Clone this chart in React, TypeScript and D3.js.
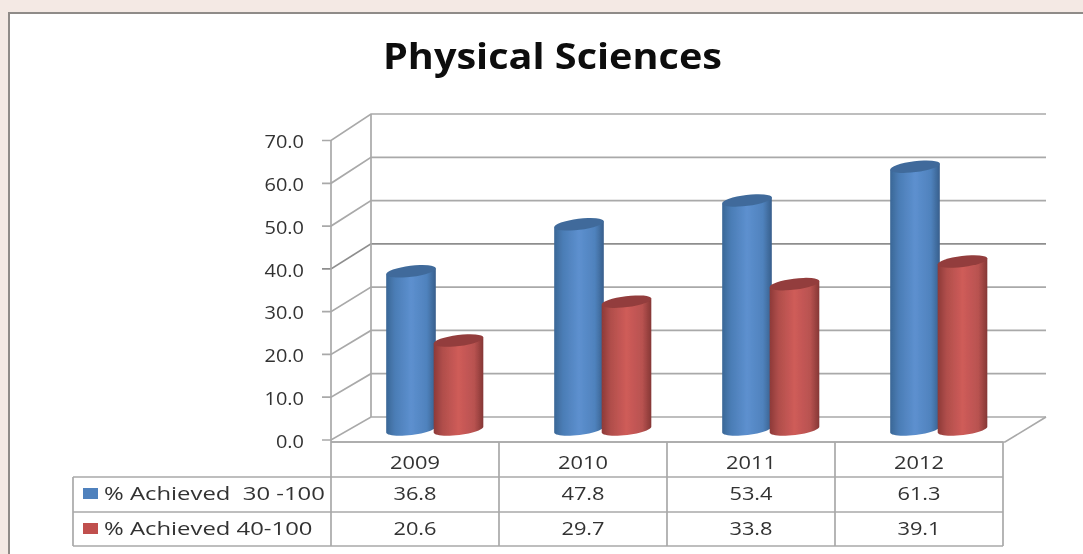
import React from "react";
import * as d3 from "d3";

const categories = ["2009", "2010", "2011", "2012"];
const seriesNames = ["% Achieved  30 -100", "% Achieved 40-100"];
const blueValues = [36.8, 47.8, 53.4, 61.3];
const redValues = [20.6, 29.7, 33.8, 39.1];
const blueLabels = ["36.8", "47.8", "53.4", "61.3"];
const redLabels = ["20.6", "29.7", "33.8", "39.1"];
const ticks = [0, 10, 20, 30, 40, 50, 60, 70];
const title = "Physical Sciences";

const W = 1083, H = 554;
const frontX = 331, frontRight = 1003;
const dx = 40;
const yFront = d3.scaleLinear().domain([0, 70]).range([440, 140.5]);
const yBack = d3.scaleLinear().domain([0, 70]).range([417, 114]);
const yBar = d3.scaleLinear().domain([0, 70]).range([428.5, 129.5]);
const xBand = d3.scaleBand<string>().domain(categories).range([frontX, frontRight]);
const rowY = [442, 477, 512, 546];
const rowTextY = [462, 493, 528];
const tableLeft = 73;
const GRID = "#a9a9a9";
const FONT = "'Open Sans', sans-serif";
const TEXT = "#333333";

function Label({ x, y, sx, anchor, children }: { x: number; y: number; sx: number; anchor: string; children: React.ReactNode }) {
  return (
    <text
      transform={`translate(${x} ${y}) scale(${sx} 1)`}
      dy="0.36em"
      textAnchor={anchor}
      fontFamily={FONT}
      fontSize={18.5}
      fill={TEXT}
      style={{ whiteSpace: "pre" }}
    >
      {children}
    </text>
  );
}

function Cyl({ cx, value, id, dark }: { cx: number; value: number; id: string; dark: string }) {
  const rx = 25, ry = 5.5, rot = (-7 * Math.PI) / 180;
  const top = yBar(value), base = yBar(0) + 1;
  const pt = (cy: number, t: number): [number, number] => [
    cx + rx * Math.cos(t) * Math.cos(rot) - ry * Math.sin(t) * Math.sin(rot),
    cy + rx * Math.cos(t) * Math.sin(rot) + ry * Math.sin(t) * Math.cos(rot),
  ];
  const angles = d3.range(0, 25).map((i) => Math.PI - (i * Math.PI) / 24);
  const pts: [number, number][] = [pt(top, Math.PI), ...angles.map((t) => pt(base, t)), pt(top, 0)];
  const d = d3.line()(pts) + "Z";
  return (
    <g>
      <path d={d} fill={`url(#${id})`} />
      <ellipse cx={cx} cy={top} rx={rx} ry={ry} fill={dark} transform={`rotate(-7 ${cx} ${top})`} />
    </g>
  );
}

export default function App() {
  const lineProps = { stroke: GRID, strokeWidth: 1.7, fill: "none" };
  return (
    <svg width={W} height={H} style={{ position: "absolute", left: 0, top: 0 }}>
      <defs>
        <linearGradient id="blue" x1="0" x2="1" y1="0" y2="0">
          <stop offset="0" stopColor="#3a6796" />
          <stop offset="0.18" stopColor="#4b7db6" />
          <stop offset="0.5" stopColor="#5d90cf" />
          <stop offset="0.82" stopColor="#4f82bd" />
          <stop offset="1" stopColor="#385f8c" />
        </linearGradient>
        <linearGradient id="red" x1="0" x2="1" y1="0" y2="0">
          <stop offset="0" stopColor="#8d3a38" />
          <stop offset="0.18" stopColor="#b04e4b" />
          <stop offset="0.5" stopColor="#cf5c59" />
          <stop offset="0.82" stopColor="#b85250" />
          <stop offset="1" stopColor="#853735" />
        </linearGradient>
        <filter id="soft" x="-2%" y="-2%" width="104%" height="104%">
          <feGaussianBlur stdDeviation="0.7" />
        </filter>
      </defs>
      <rect width={W} height={H} fill="#f4e9e4" />
      <g filter="url(#soft)">
        <rect x={9} y={13} width={W} height={H} fill="#fff" stroke="#8f8b88" strokeWidth={2} />

        {ticks.map((t) => (
          <g key={t}>
            <polyline
              {...lineProps}
              stroke={t === 40 ? "#8e8e8e" : GRID}
              points={`${frontX - 9},${yFront(t)} ${frontX},${yFront(t)} ${frontX + dx},${yBack(t)} ${1046},${yBack(t)}`}
            />
            <Label x={304} y={yFront(t) + 1} sx={1.08} anchor="end">{t.toFixed(1)}</Label>
          </g>
        ))}
        <line {...lineProps} x1={frontX} x2={frontX} y1={yFront(70)} y2={rowY[3]} />
        <line {...lineProps} x1={frontX + dx} x2={frontX + dx} y1={yBack(70)} y2={yBack(0)} />
        <polyline {...lineProps} points={`${frontX},${rowY[0]} ${frontRight + 2},${rowY[0]} ${1046},${yBack(0)}`} />

        {categories.map((c, i) => {
          const x0 = xBand(c)! + 80;
          const x1 = xBand(c)! + 127.5;
          return (
            <g key={c}>
              <Cyl cx={x0} value={blueValues[i]} id="blue" dark="#3f6b9b" />
              <Cyl cx={x1} value={redValues[i]} id="red" dark="#933e3c" />
            </g>
          );
        })}

        {rowY.map((y, i) => (
          <line key={i} {...lineProps} x1={i === 0 ? frontX : tableLeft} x2={frontRight} y1={y} y2={y} />
        ))}
        <line {...lineProps} x1={tableLeft} x2={tableLeft} y1={rowY[1]} y2={rowY[3]} />
        {categories.map((c) => (
          <line key={c} {...lineProps} x1={xBand(c)! + xBand.bandwidth()} x2={xBand(c)! + xBand.bandwidth()} y1={rowY[0]} y2={rowY[3]} />
        ))}

        {categories.map((c, i) => {
          const cx = xBand(c)! + xBand.bandwidth() / 2;
          return [c, blueLabels[i], redLabels[i]].map((t, r) => (
            <Label key={c + r} x={cx} y={rowTextY[r]} sx={1.18} anchor="middle">{t}</Label>
          ));
        })}

        {seriesNames.map((s, i) => (
          <g key={s}>
            <rect x={83} y={rowY[i + 1] + 11} width={15} height={11} fill={i === 0 ? "#4f81bd" : "#c0504d"} />
            <Label x={104} y={rowTextY[i + 1]} sx={1.29} anchor="start">{s}</Label>
          </g>
        ))}

        <text x={552.5} y={56} dy="0.36em" textAnchor="middle" fontFamily={FONT} fontWeight={700} fontSize={36} fill="#0a0a0a" textLength={339} lengthAdjust="spacingAndGlyphs">
          {title}
        </text>
      </g>
    </svg>
  );
}
